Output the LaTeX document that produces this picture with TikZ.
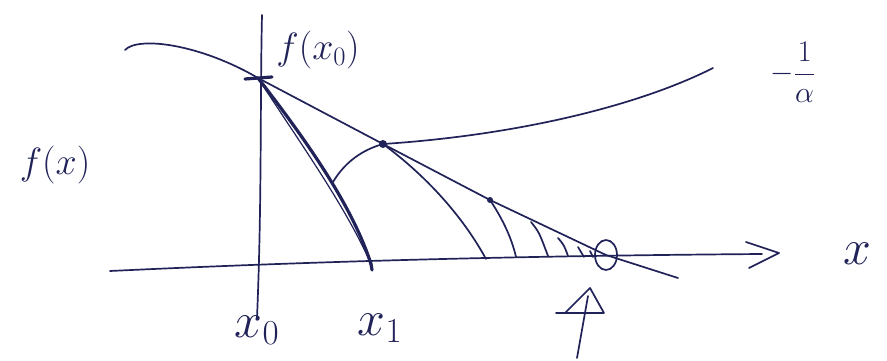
\RequirePackage{fix-cm}
\documentclass[tikz,border=0pt]{standalone}
\definecolor{inkc}{RGB}{32,34,88}
\begin{document}
\begin{tikzpicture}[x=1pt,y=-1pt,
  ink/.style={draw=inkc, line width=1.7pt, line cap=round, line join=round},
  heavy/.style={draw=inkc, line width=3.2pt, line cap=round},
  lbl/.style={text=inkc, inner sep=0pt},
  big/.style={lbl, font=\fontsize{50}{60}\selectfont},
  mid/.style={lbl, font=\fontsize{38}{46}\selectfont}]
\useasboundingbox (0,0) rectangle (887,361);
\fill[white] (0,0) rectangle (887,361);
% key points
\coordinate (P0) at (258,78);
\coordinate (P1) at (383,144);
\coordinate (Q2) at (490,200);
\coordinate (X1) at (371,264);
\coordinate (R) at (606,255);
\coordinate (axL) at (110,271);
\coordinate (axR) at (762,254);
\coordinate (vT) at (262,15);
\coordinate (vB) at (257,318);
% x axis with hand-drawn arrow
\draw[ink] (axL) .. controls (300,262) and (500,256) .. (axR);
\draw[ink] (746,242) -- (779,253) -- (749,268);
% vertical line at x0
\draw[ink] (vT) .. controls (260,100) and (262,200) .. (vB);
% the function and tangent line
\draw[ink] (125,50) .. controls (138,36) and (200,44) .. (P0) -- (P1) -- (Q2) -- (R) -- (678,278);
% -1/alpha curve with its start arc
\draw[ink] (333,182) .. controls (345,162) and (362,150) .. (P1) .. controls (520,135) and (640,105) .. (713,68);
% thick arc from f(x0) to x1
\draw[ink, line width=1.2pt] (P0) .. controls (298,140) and (345,205) .. (X1);
\draw[heavy] (P0) .. controls (306,140) and (352,205) .. (X1);
\draw[heavy] (X1) -- (372,270);
% iteration arcs
\draw[ink] (P1) .. controls (425,175) and (462,215) .. (486,259);
\draw[ink] (Q2) .. controls (500,215) and (511,235) .. (516,257);
\draw[ink] (531,222) .. controls (539,232) .. (548,256);
\draw[ink] (558,238) .. controls (564,245) .. (568,256);
\draw[ink] (578,247) -- (584,257);
\draw[ink] (590,251) -- (593,257);
% marks
\draw[heavy] (245,79) -- (272,77);
\fill[inkc] (P1) circle (4pt);
\fill[inkc] (Q2) circle (3pt);
% root circle
\draw[ink] (R) ellipse (11 and 15);
% arrow pointing to the root
\draw[ink] (590,288) -- (565,313) -- (604,313) -- cycle;
\draw[ink] (556,313) -- (565,313);
\draw[ink] (588,296) -- (577,358);
% labels
\node[mid] (fx0) at (318,50) {$f(x_0)$};
\node[mid] (fx) at (55,165) {$f(x)$};
\node[lbl, font=\fontsize{30}{36}\selectfont] (alpha) at (793,72) {$\displaystyle -\frac{1}{\alpha}$};
\node[big] (xlab) at (857,254) {$x$};
\node[big] (x0) at (257,330) {$x_0$};
\node[big] (x1) at (380,328) {$x_1$};
\end{tikzpicture}
\end{document}
